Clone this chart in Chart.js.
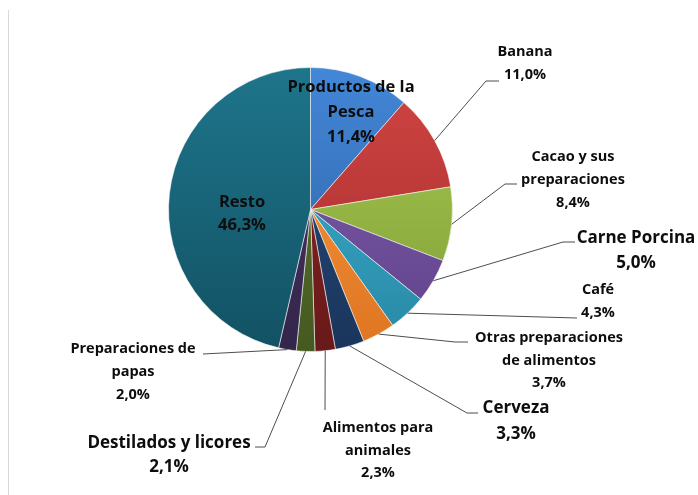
<!DOCTYPE html>
<html>
<head>
<meta charset="utf-8">
<script src="https://cdn.jsdelivr.net/npm/chart.js@4/dist/chart.umd.min.js"></script>
<style>
  body { margin: 0; background: #fff; }
  #wrap { position: relative; width: 698px; height: 495px; }
  #frame { position: absolute; left: 8px; top: 10px; bottom: 0; border-left: 1px solid #d9d9d9; }
</style>
</head>
<body>
<div id="wrap">
  <div id="frame"></div>
  <canvas id="chart" width="698" height="495"></canvas>
</div>
<script>
// Exportaciones por producto (% del total)
const categories = [
    'Productos de la Pesca', 'Banana', 'Cacao y sus preparaciones', 'Carne Porcina', 'Café',
    'Otras preparaciones de alimentos', 'Cerveza', 'Alimentos para animales',
    'Destilados y licores', 'Preparaciones de papas', 'Resto'
];
const shares = [11.4, 11.0, 8.4, 5.0, 4.3, 3.7, 3.3, 2.3, 2.1, 2.0, 46.3];

// colores (arriba -> abajo, imitando el degradado de Excel)
const colorTop = ['#4387d8', '#d14543', '#a9ca55', '#8462b2', '#3db6d6', '#f89b46', '#264d80', '#8e2828', '#5f7831', '#4b386a', '#1e758b'];
const colorBottom = ['#2c5f9f', '#a22d2d', '#7e9f33', '#5e4087', '#2888a4', '#df7520', '#1a355b', '#681919', '#455921', '#34254b', '#125163'];

// posición de etiquetas: wrap = palabras por línea, elbow/end = línea guía
const labelLayout = [
    { x: 351, y: 87, lh: 25, size: 16.5, wrap: [3, 1] },
    { x: 525, y: 52, lh: 23, size: 14.5, elbow: [486, 81], end: [499, 81] },
    { x: 573, y: 157, lh: 23, size: 14.5, wrap: [3, 1], elbow: [505, 184], end: [517, 184] },
    { x: 636, y: 238, lh: 25, size: 17, elbow: [563, 242], end: [575, 242] },
    { x: 598, y: 290, lh: 23, size: 14.5, end: [577, 318] },
    { x: 549, y: 338, lh: 22.5, size: 14.5, wrap: [2, 2], elbow: [455, 342], end: [468, 342] },
    { x: 516, y: 408, lh: 26, size: 17, elbow: [467, 413], end: [478, 413] },
    { x: 378, y: 428, lh: 22.5, size: 14.5, wrap: [2, 1], end: [325, 410] },
    { x: 169, y: 443, lh: 24, size: 17, elbow: [265, 447], end: [255, 447] },
    { x: 133, y: 349, lh: 23, size: 14.5, wrap: [2, 1], end: [203, 354] },
    { x: 242, y: 202, lh: 23.5, size: 16.5 }
];

const fmtPct = v => v.toFixed(1).replace('.', ',') + '%';

function splitName(name, wrap) {
    const words = name.split(' ');
    if (!wrap) return [name];
    const out = [];
    let i = 0;
    wrap.forEach(n => { out.push(words.slice(i, i + n).join(' ')); i += n; });
    return out;
}

const sliceGradient = (context) => {
    const chart = context.chart;
    const area = chart.chartArea;
    if (!area) return colorTop[context.dataIndex];
    const g = chart.ctx.createLinearGradient(0, area.top, 0, area.bottom);
    g.addColorStop(0, colorTop[context.dataIndex]);
    g.addColorStop(1, colorBottom[context.dataIndex]);
    return g;
};

const leaderLabels = {
    id: 'leaderLabels',
    afterDraw(chart) {
        const ctx = chart.ctx;
        const meta = chart.getDatasetMeta(0);
        ctx.save();
        meta.data.forEach((arc, i) => {
            const cfg = labelLayout[i];
            if (cfg.end) {
                const mid = (arc.startAngle + arc.endAngle) / 2;
                const sx = arc.x + Math.cos(mid) * arc.outerRadius;
                const sy = arc.y + Math.sin(mid) * arc.outerRadius;
                ctx.beginPath();
                ctx.moveTo(sx, sy);
                if (cfg.elbow) ctx.lineTo(cfg.elbow[0], cfg.elbow[1]);
                ctx.lineTo(cfg.end[0], cfg.end[1]);
                ctx.strokeStyle = '#4d4d4d';
                ctx.lineWidth = 1;
                ctx.stroke();
            }
            const lines = splitName(categories[i], cfg.wrap);
            lines.push(fmtPct(shares[i]));
            ctx.fillStyle = '#0d0d0d';
            ctx.font = 'bold ' + cfg.size + 'px "Open Sans", sans-serif';
            ctx.textAlign = 'center';
            ctx.textBaseline = 'middle';
            lines.forEach((t, k) => ctx.fillText(t, cfg.x, cfg.y + k * cfg.lh));
        });
        ctx.restore();
    }
};

new Chart(document.getElementById('chart'), {
    type: 'pie',
    data: {
        labels: categories,
        datasets: [{
            data: shares,
            backgroundColor: sliceGradient,
            borderColor: 'rgba(255,255,255,0.55)',
            borderWidth: 1
        }]
    },
    options: {
        responsive: false,
        animation: false,
        layout: { padding: { left: 168, right: 245, top: 67, bottom: 143 } },
        plugins: {
            legend: { display: false },
            tooltip: { enabled: false }
        }
    },
    plugins: [leaderLabels]
});
</script>
</body>
</html>
